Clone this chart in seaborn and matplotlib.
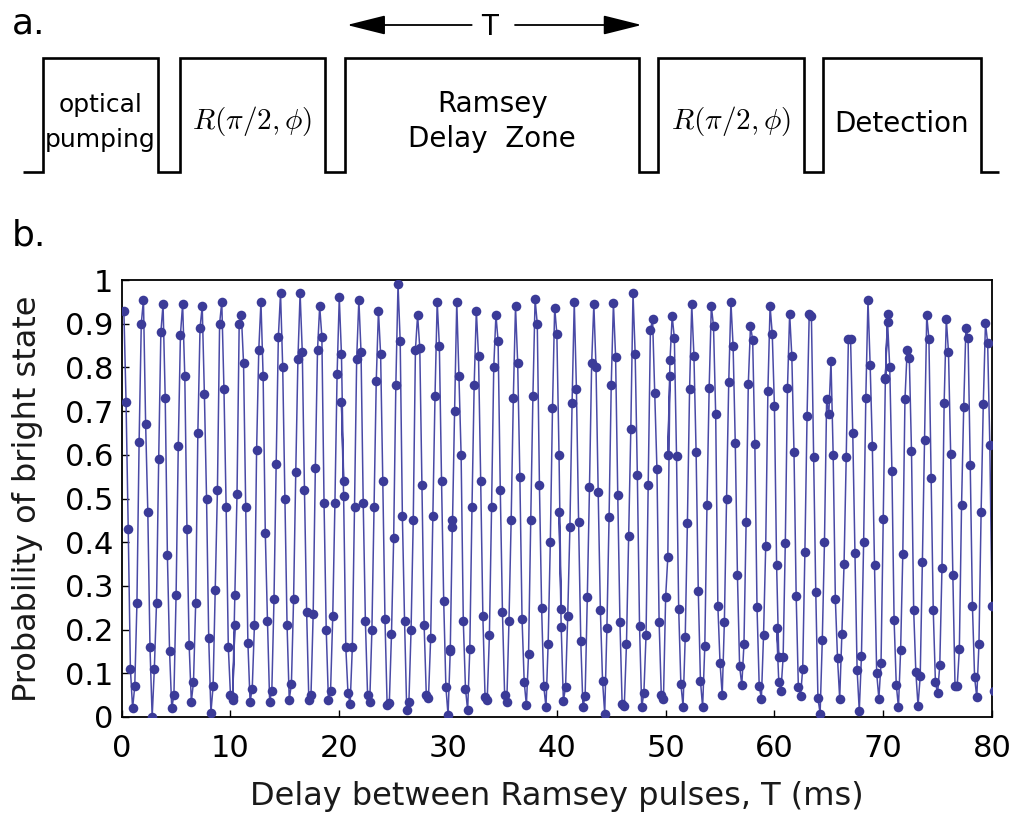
import numpy as np
import pandas as pd
import matplotlib
matplotlib.use("Agg")
import matplotlib.pyplot as plt
import seaborn as sns
from matplotlib.patches import FancyArrowPatch

# ---------------------------------------------------------------------------
# Ramsey fringe: probability of the bright state, recorded as eight delay
# scans of ~10 ms each (0.2 ms steps, consecutive scans overlap slightly).
# ---------------------------------------------------------------------------
scan_starts_ms = [0.2, 10.2, 20.2, 30.2, 40.2, 50.2, 60.2, 70.2]
delay_step_ms = 0.2

scan_1 = [0.93, 0.72, 0.43, 0.11, 0.02, 0.07, 0.26, 0.63, 0.90, 0.955,
          0.67, 0.47, 0.16, 0.00, 0.11, 0.26, 0.59, 0.88, 0.945, 0.73,
          0.37, 0.15, 0.02, 0.05, 0.28, 0.62, 0.875, 0.945, 0.78, 0.43,
          0.165, 0.035, 0.08, 0.26, 0.65, 0.89, 0.94, 0.74, 0.50, 0.18,
          0.01, 0.07, 0.29, 0.52, 0.90, 0.95, 0.75, 0.48, 0.16, 0.05,
          0.04, 0.21]
scan_2 = [0.045, 0.28, 0.51, 0.90, 0.92, 0.81, 0.48, 0.17, 0.035, 0.065,
          0.21, 0.61, 0.84, 0.95, 0.78, 0.42, 0.22, 0.035, 0.06, 0.27,
          0.58, 0.87, 0.97, 0.80, 0.50, 0.21, 0.04, 0.075, 0.27, 0.56,
          0.82, 0.97, 0.835, 0.52, 0.24, 0.04, 0.05, 0.235, 0.57, 0.84,
          0.94, 0.87, 0.49, 0.20, 0.04, 0.06, 0.23, 0.49, 0.785, 0.96,
          0.83, 0.54]
scan_3 = [0.72, 0.505, 0.16, 0.054, 0.03, 0.16, 0.48, 0.82, 0.955,
          0.835, 0.49, 0.22, 0.05, 0.034, 0.20, 0.48, 0.77, 0.93,
          0.83, 0.54, 0.225, 0.027, 0.032, 0.19, 0.41, 0.76, 0.99,
          0.86, 0.46, 0.22, 0.015, 0.034, 0.20, 0.45, 0.84, 0.92,
          0.845, 0.53, 0.21, 0.05, 0.044, 0.18, 0.46, 0.735, 0.95,
          0.85, 0.54, 0.265, 0.069, 0.004, 0.15, 0.45]
scan_4 = [0.156, 0.435, 0.70, 0.95,
          0.78, 0.60, 0.22, 0.065, 0.015, 0.156, 0.48, 0.76, 0.93,
          0.826, 0.54, 0.23, 0.046, 0.04, 0.187, 0.48, 0.80, 0.92,
          0.86, 0.52, 0.24, 0.05, 0.034, 0.22, 0.45, 0.73, 0.94,
          0.81, 0.55, 0.225, 0.08, 0.027, 0.145, 0.45, 0.735, 0.956,
          0.90, 0.53, 0.25, 0.07, 0.023, 0.168, 0.40, 0.706, 0.937,
          0.877, 0.60, 0.247]
scan_5 = [0.47, 0.205, 0.037, 0.068, 0.232, 0.434, 0.718, 0.95,
          0.75, 0.446, 0.173, 0.022, 0.049, 0.274, 0.526, 0.81, 0.944,
          0.80, 0.514, 0.245, 0.083, 0.007, 0.203, 0.457, 0.76, 0.947,
          0.824, 0.507, 0.217, 0.03, 0.026, 0.167, 0.414, 0.66, 0.97,
          0.83, 0.553, 0.209, 0.022, 0.055, 0.188, 0.53, 0.886, 0.91,
          0.742, 0.568, 0.218, 0.051, 0.041, 0.274, 0.366, 0.78]
scan_6 = [0.60, 0.816, 0.917, 0.868, 0.598, 0.247, 0.076, 0.024, 0.182, 0.444, 0.75, 0.944,
          0.827, 0.607, 0.289, 0.083, 0.022, 0.162, 0.484, 0.753, 0.94,
          0.895, 0.693, 0.255, 0.124, 0.05, 0.218, 0.50, 0.766, 0.95,
          0.85, 0.627, 0.324, 0.116, 0.073, 0.167, 0.446, 0.763, 0.895,
          0.863, 0.625, 0.251, 0.072, 0.041, 0.188, 0.392, 0.747, 0.94,
          0.877, 0.711, 0.348, 0.137]
scan_7 = [0.203, 0.081, 0.06, 0.137, 0.398, 0.753, 0.923,
          0.825, 0.606, 0.276, 0.069, 0.049, 0.11, 0.377, 0.689, 0.923,
          0.917, 0.595, 0.287, 0.043, 0.008, 0.176, 0.40, 0.727, 0.693, 0.815,
          0.60, 0.27, 0.134, 0.042, 0.19, 0.35, 0.595, 0.865, 0.865,
          0.65, 0.375, 0.108, 0.014, 0.14, 0.40, 0.73, 0.955,
          0.805, 0.62, 0.347, 0.10, 0.042, 0.124, 0.452, 0.776, 0.923]
scan_8 = [0.774, 0.905, 0.80, 0.564, 0.222, 0.074, 0.022, 0.153, 0.373, 0.728, 0.839,
          0.821, 0.608, 0.245, 0.102, 0.026, 0.093, 0.354, 0.633, 0.919,
          0.866, 0.547, 0.244, 0.079, 0.054, 0.119, 0.34, 0.718, 0.911,
          0.835, 0.602, 0.326, 0.072, 0.07, 0.156, 0.484, 0.709, 0.89,
          0.867, 0.576, 0.255, 0.091, 0.045, 0.167, 0.47, 0.717, 0.902,
          0.856, 0.623, 0.255, 0.06]

x_ticks = [0, 10, 20, 30, 40, 50, 60, 70, 80]
y_ticks = [0.0, 0.1, 0.2, 0.3, 0.4, 0.5, 0.6, 0.7, 0.8, 0.9, 1.0]
y_tick_labels = ["0", "0.1", "0.2", "0.3", "0.4", "0.5", "0.6", "0.7", "0.8", "0.9", "1"]

# Pulse-sequence schematic (drawn in schematic units)
zone_labels = ["optical\npumping", r"$R(\pi/2,\phi)$", "Ramsey\nDelay  Zone",
               r"$R(\pi/2,\phi)$", "Detection"]

scans = [scan_1, scan_2, scan_3, scan_4, scan_5, scan_6, scan_7, scan_8]
frames = []
for k, (start, values) in enumerate(zip(scan_starts_ms, scans)):
    delays = start + delay_step_ms * np.arange(len(values))
    frames.append(pd.DataFrame({"delay_ms": delays, "prob": values, "scan": k}))
fringe = pd.concat(frames, ignore_index=True)

# ---------------------------------------------------------------------------
sns.set_theme(style="ticks")
plt.rcParams["font.family"] = ["DejaVu Sans"]
plt.rcParams["mathtext.fontset"] = "cm"
plt.rcParams["text.color"] = "black"

W, H = 1019, 819
fig = plt.figure(figsize=(W / 100, H / 100), dpi=100)

# ----- panel a: pulse sequence --------------------------------------------
sch = fig.add_axes([0, 1 - 260 / H, 1, 260 / H])
sch.set_xlim(0, W)
sch.set_ylim(260, 0)
sch.axis("off")

zone_edges = [(42.7, 158.3), (180.0, 325.0), (345.0, 639.3), (658.3, 804.3), (823.3, 980.7)]
zone_fontsizes = [18, 21, 20, 21, 20]
lead_in, lead_out = 22.7, 999.3
low, high = 171.7, 58.3

xs, ys = [lead_in], [low]
for a, b in zone_edges:
    xs += [a, a, b, b]
    ys += [low, high, high, low]
xs.append(lead_out)
ys.append(low)
sch.plot(xs, ys, color="black", lw=1.9, solid_joinstyle="miter", solid_capstyle="butt")

for (a, b), label, fs in zip(zone_edges, zone_labels, zone_fontsizes):
    cx = (a + b) / 2
    if label.startswith("$"):
        sch.text(cx, 121.5, label, ha="center", va="center", fontsize=fs, color="black")
    else:
        lines = label.split("\n")
        if len(lines) == 2:
            sch.text(cx, 111.7, lines[0], ha="center", va="baseline", fontsize=fs, color="black")
            sch.text(cx, 146.7, lines[1], ha="center", va="baseline", fontsize=fs, color="black")
        else:
            sch.text(cx, 132.0, label, ha="center", va="baseline", fontsize=fs, color="black")

arrow_kw = dict(arrowstyle="-|>,head_length=1.2,head_width=0.3", mutation_scale=20,
                color="black", lw=1.3, shrinkA=0, shrinkB=0)
sch.add_patch(FancyArrowPatch((471.7, 25), (347.0, 25), **arrow_kw))
sch.add_patch(FancyArrowPatch((515.0, 25), (641.7, 25), **arrow_kw))
sch.text(490, 35, "T", ha="center", va="baseline", fontsize=20, color="black")

sch.text(12, 33, "a.", ha="left", va="baseline", fontsize=26, color="black")
sch.text(12, 245, "b.", ha="left", va="baseline", fontsize=26, color="black")

# ----- panel b: Ramsey fringe ----------------------------------------------
ax = fig.add_axes([121.7 / W, 1 - 717 / H, 870.3 / W, 437 / H])
line_color = "#4a4aa6"
dot_color = "#3b3b98"
sns.lineplot(data=fringe, x="delay_ms", y="prob", estimator=None, sort=False,
             color=line_color, lw=1.1, ax=ax, zorder=2)
sns.scatterplot(data=fringe, x="delay_ms", y="prob", color=dot_color, s=48,
                linewidth=0, ax=ax, zorder=3)

ax.set_xlim(0, 80)
ax.set_ylim(0, 1)
ax.set_xticks(x_ticks)
ax.set_xticklabels([str(t) for t in x_ticks])
ax.set_yticks(y_ticks)
ax.set_yticklabels(y_tick_labels)
ax.tick_params(axis="both", direction="in", length=5, width=1.0, labelsize=22,
               colors="black")
ax.tick_params(axis="y", pad=6)
ax.tick_params(axis="x", pad=12)
for s in ax.spines.values():
    s.set_linewidth(1.3)
    s.set_color("black")

ax.set_xlabel("Delay between Ramsey pulses, T (ms)", fontsize=23, color="#1a1a1a")
ax.set_ylabel("Probability of bright state", fontsize=23, color="#1a1a1a")
ax.xaxis.set_label_coords(0.5, -(781 - 717) / 437)
ax.yaxis.set_label_coords(-(121.7 - 43) / 870.3, 0.5)

fig.savefig("out.png", dpi=100)
